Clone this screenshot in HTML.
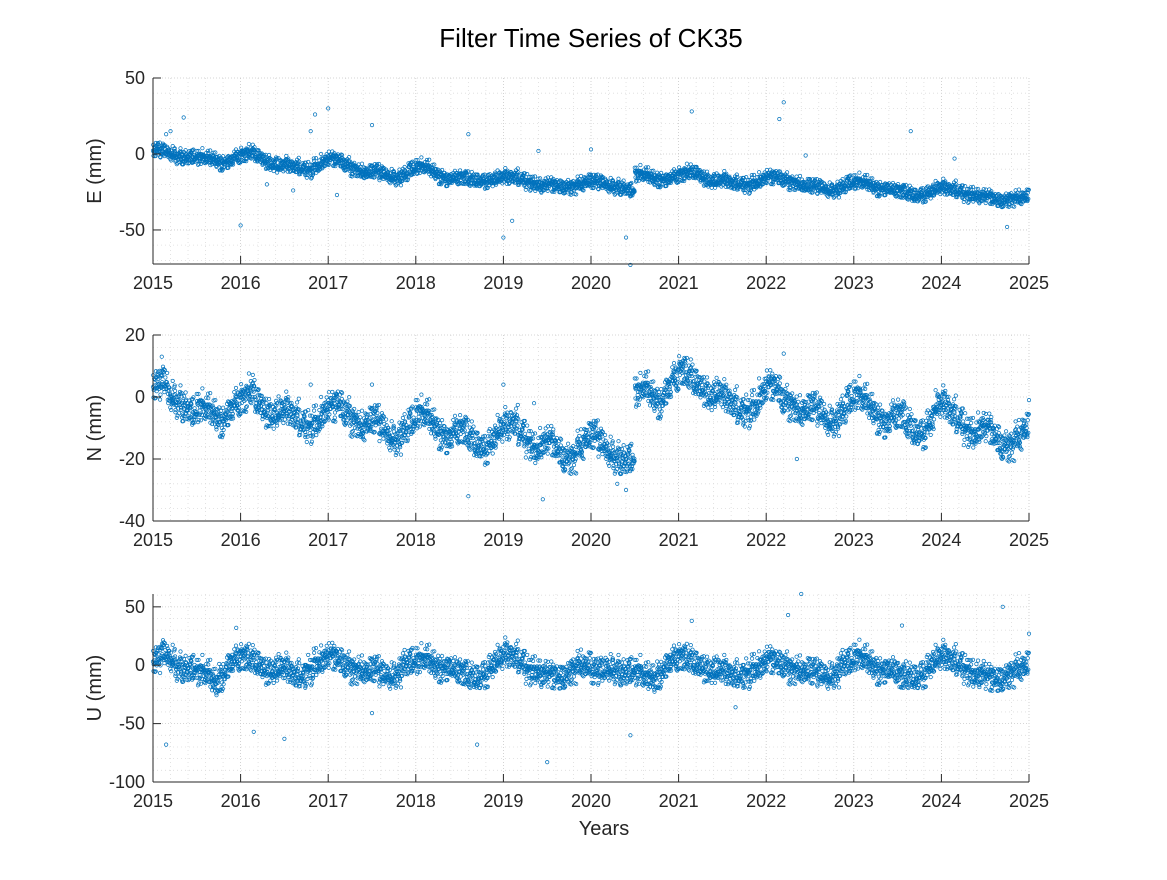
<!DOCTYPE html>
<html><head><meta charset="utf-8"><style>
body{margin:0;background:#fff;}
svg text{font-family:"Liberation Sans",Arial,sans-serif;fill:#262626;}
</style></head><body>
<svg id="chart" width="1167" height="875" xmlns="http://www.w3.org/2000/svg">
<rect width="1167" height="875" fill="#fff"/>
<text x="591" y="47" font-size="26" text-anchor="middle" style="fill:#000">Filter Time Series of CK35</text>
<text x="604" y="835" font-size="20" text-anchor="middle">Years</text>
</svg>
<script>
const eMonthly=[3,2,0,-2,-3,-2,-2,-3,-4,-6,-5,-2, 0,1,-2,-5,-7,-8,-7,-8,-10,-11,-8,-5, -3,-4,-7,-10,-12,-12,-11,-13,-15,-16,-14,-10, -8,-9,-12,-15,-17,-16,-15,-17,-18,-18,-17,-16, -15,-15,-17,-19,-20,-21,-20,-21,-22,-22,-20,-18, -18,-19,-21,-22,-23,-24,-13,-14,-16,-17,-17,-15, -13,-12,-13,-16,-18,-18,-17,-19,-20,-21,-19,-17, -15,-15,-17,-19,-20,-21,-21,-22,-24,-24,-22,-19, -18,-19,-21,-23,-23,-24,-24,-26,-28,-27,-25,-23, -22,-23,-25,-27,-27,-28,-28,-30,-31,-30,-29,-28];
const eOutT=[2015.35,2015.2,2015.15,2016.0,2016.8,2016.85,2017.0,2017.5,2018.6,2019.0,2019.1,2019.4,2020.0,2020.4,2020.45,2021.15,2022.15,2022.2,2022.45,2023.65,2024.15,2024.75,2016.6,2016.3,2017.1];
const eOutV=[24,15,13,-47,15,26,30,19,13,-55,-44,2,3,-55,-73,28,23,34,-1,15,-3,-48,-24,-20,-27];
const nMonthly=[4,5,0,-2,-4,-5,-3,-4,-6,-8,-5,-2, 0,2,-2,-5,-6,-5,-4,-6,-9,-10,-8,-5, -3,-2,-5,-8,-10,-8,-7,-10,-13,-14,-11,-8, -5,-6,-9,-12,-14,-11,-10,-13,-16,-17,-14,-11, -9,-8,-12,-15,-17,-15,-14,-17,-20,-20,-16,-13, -12,-15,-18,-20,-21,-20,2,3,0,-2,2,6, 9,7,4,2,0,1,0,-2,-5,-5,-3,1, 4,3,-1,-3,-5,-4,-3,-5,-8,-8,-5,-1, 1,-1,-4,-7,-9,-6,-5,-9,-12,-12,-8,-3, -2,-5,-8,-11,-12,-10,-10,-13,-16,-16,-13,-10];
const nOutT=[2015.1,2018.6,2019.45,2020.3,2020.4,2022.2,2022.35,2016.8,2019.0,2019.35,2017.5,2025.0];
const nOutV=[13,-32,-33,-28,-30,14,-20,4,4,-2,4,-1];
const uMonthly=[5,10,5,-2,-5,-3,-5,-8,-15,-10,0,5, 8,5,0,-5,-5,-3,-3,-8,-10,-5,2,5, 8,5,0,-5,-5,-5,-3,-8,-10,-8,0,3, 5,5,0,-3,-3,-5,-5,-10,-12,-8,0,5, 10,8,2,-5,-5,-8,-8,-10,-10,-5,0,0, -5,-5,-3,-5,-8,-5,-5,-10,-12,-8,0,5, 8,5,0,-3,-5,-5,-5,-8,-10,-8,-3,0, 5,3,0,-5,-5,-5,-5,-8,-10,-8,0,3, 8,5,0,-5,-5,-5,-8,-10,-12,-8,0,5, 8,5,0,-5,-8,-8,-10,-12,-12,-8,-3,0];
const uOutT=[2015.15,2016.15,2016.5,2017.5,2018.7,2019.5,2020.45,2021.15,2022.25,2022.4,2023.55,2024.7,2025.0,2015.95,2021.65];
const uOutV=[-68,-57,-63,-41,-68,-83,-60,38,43,61,34,50,27,32,-36];
const xTicks=[2015,2016,2017,2018,2019,2020,2021,2022,2023,2024,2025];

const svg=document.getElementById('chart');
const NS='http://www.w3.org/2000/svg';
function el(tag,attrs,parent){const e=document.createElementNS(NS,tag);for(const k in attrs)e.setAttribute(k,attrs[k]);(parent||svg).appendChild(e);return e;}
const X0=153,X1=1029;
const panels=[
 {name:'e',label:'E (mm)',top:78,bot:264,ymin:-72.4,ymax:50,ticks:[-50,0,50],minor:10,data:eMonthly,oT:eOutT,oV:eOutV,spread:5},
 {name:'n',label:'N (mm)',top:335,bot:521,ymin:-40,ymax:20,ticks:[-40,-20,0,20],minor:4,data:nMonthly,oT:nOutT,oV:nOutV,spread:5},
 {name:'u',label:'U (mm)',top:594,bot:782,ymin:-100,ymax:61,ticks:[-100,-50,0,50],minor:10,data:uMonthly,oT:uOutT,oV:uOutV,spread:12}
];
const jitter=[0.12,-0.83,0.57,-0.21,0.94,-0.48,0.33,-0.97,0.71,-0.06,-0.62,0.25,0.86,-0.35,0.04,-0.74,0.49,-0.15,0.66,-0.9,0.18,0.79,-0.55,0.39,-0.28,0.98,-0.42,0.08,-0.68,0.52];
panels.forEach(p=>{
 const g=el('g',{});
 
 
 const xs=t=>X0+(t-2015)/10*(X1-X0);
 const ys=v=>p.bot-(v-p.ymin)/(p.ymax-p.ymin)*(p.bot-p.top);
 for(let t=2015;t<=2025.001;t+=0.2){const x=xs(t);const major=Math.abs(t-Math.round(t))<0.01;
  el('line',{x1:x,x2:x,y1:p.top,y2:p.bot,stroke:major?'#c8c8c8':'#dcdcdc','stroke-width':0.8,'stroke-dasharray':major?'1,2':'1,3'},g);}
 for(let v=Math.ceil(p.ymin/p.minor)*p.minor;v<=p.ymax;v+=p.minor){const y=ys(v);const major=p.ticks.includes(v);
  el('line',{x1:X0,x2:X1,y1:y,y2:y,stroke:major?'#c8c8c8':'#dcdcdc','stroke-width':0.8,'stroke-dasharray':major?'1,2':'1,3'},g);}
 const pts=el('g',{fill:'none',stroke:'#0072BD','stroke-width':0.75},g);
 
 
 const L=jitter.length;
 p.data.forEach((v,i)=>{
  for(let k=0;k<L;k++){
   const t=2015+(i+k/L)/12;
   const j=jitter[(k*11+i*17)%L]*0.7+jitter[(k*7+i*3+5)%L]*0.5;
   el('circle',{cx:xs(t).toFixed(1),cy:ys(v+p.spread*j).toFixed(1),r:1.7},pts);
  }
 });
 p.oT.forEach((t,i)=>{const c=el('circle',{cx:xs(t),cy:ys(p.oV[i]),r:1.7},pts);
  
  });
 el('line',{x1:X0,x2:X0,y1:p.top,y2:p.bot,stroke:'#262626','stroke-width':1},g);
 el('line',{x1:X0,x2:X1,y1:p.bot,y2:p.bot,stroke:'#262626','stroke-width':1},g);
 xTicks.forEach(t=>{const x=xs(t);
  el('line',{x1:x,x2:x,y1:p.bot,y2:p.bot-8,stroke:'#262626'},g);
  const tx=el('text',{x:x,y:p.bot+25,'font-size':18,'text-anchor':'middle'},g);tx.textContent=t;
  
  });
 p.ticks.forEach(v=>{const y=ys(v);
  el('line',{x1:X0,x2:X0+8,y1:y,y2:y,stroke:'#262626'},g);
  const tx=el('text',{x:X0-8,y:y+6,'font-size':18,'text-anchor':'end'},g);tx.textContent=v;
  
  });
 const yl=el('text',{x:0,y:0,'font-size':20,'text-anchor':'middle',transform:`translate(101,${(p.top+p.bot)/2}) rotate(-90)`},g);
 yl.textContent=p.label;
 
 
});
</script>
</body></html>
